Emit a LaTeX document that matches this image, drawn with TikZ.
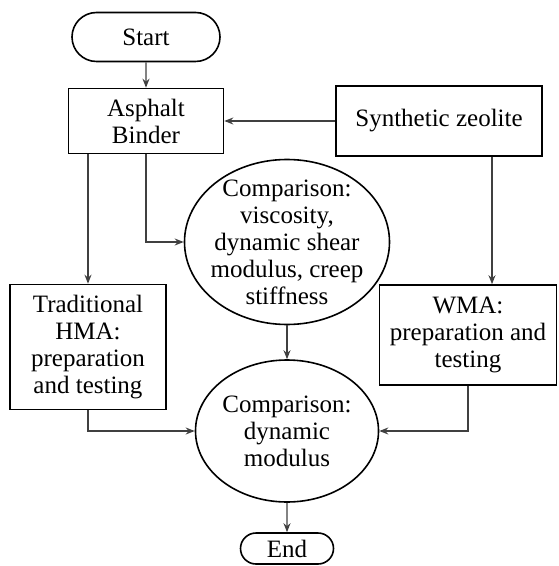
\documentclass[tikz,border=0pt]{standalone}
\usepackage{fontspec}
\setmainfont{Liberation Serif}
\usetikzlibrary{positioning, arrows.meta, shapes.geometric, shapes.misc}

\begin{document}
\begin{tikzpicture}
    [
        on grid, line width=0.8pt,
        font=\fontsize{12.5}{13.5}\selectfont,
        term_node/.style={rounded rectangle, draw=black, align=center, inner sep=0pt},
        box_node/.style={rectangle, draw=black, align=center, inner sep=0pt},
        oval_node/.style={ellipse, draw=black, align=center, inner xsep=-3pt, inner ysep=-6pt},
        flow/.style={-{Stealth[length=4.5pt, width=3.5pt]}, line width=0.7pt, color=black!75},
    ]
        \useasboundingbox (0,0) rectangle (279pt,-283pt);
        \node[term_node, minimum width=74pt, minimum height=24.5pt] (start) at (73pt,-18.5pt) {Start} ;
        \node[box_node, minimum width=77.5pt, minimum height=32.5pt] (binder) [below = 42pt of start] {Asphalt\\Binder} ;
        \node[box_node, minimum width=103pt, minimum height=35pt] (zeolite) [right = 146.5pt of binder] {Synthetic zeolite} ;
        \node[oval_node, minimum width=102.5pt, minimum height=82.5pt] (visc) [below right = 60.5pt and 70.5pt of binder] {Comparison:\\viscosity,\\dynamic shear\\modulus, creep\\stiffness} ;
        \node[box_node, minimum width=78pt, minimum height=62.5pt] (hma) [below left = 113pt and 29pt of binder] {Traditional\\HMA:\\preparation\\and testing} ;
        \node[box_node, minimum width=88.5pt, minimum height=50pt] (wma) [below right = 107pt and 14.5pt of zeolite] {WMA:\\preparation and\\testing} ;
        \node[oval_node, minimum width=91.5pt, minimum height=71pt] (dynmod) [below = 94.5pt of visc] {Comparison:\\dynamic\\modulus} ;
        \node[term_node, minimum width=46.5pt, minimum height=15.5pt] (end) [below = 58.75pt of dynmod] {End} ;
        \draw[flow] (start) to (binder) ;
        \draw[flow] (zeolite) to (binder) ;
        \draw[flow] (binder.south) |- (visc.west) ;
        \draw[flow] (binder.south -| hma.north) to (hma.north) ;
        \draw[flow] ([xshift=12pt]wma.north |- zeolite.south) to ([xshift=12pt]wma.north) ;
        \draw[flow] (visc) to (dynmod) ;
        \draw[flow] (hma.south) |- (dynmod.west) ;
        \draw[flow] (wma.south) |- (dynmod.east) ;
        \draw[flow] (dynmod) to (end) ;
    \end{tikzpicture}
\end{document}
